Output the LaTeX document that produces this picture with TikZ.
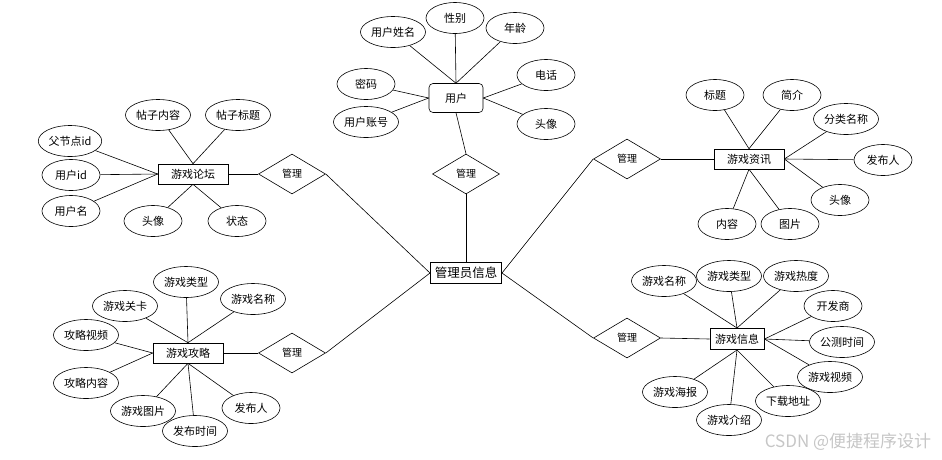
\documentclass[tikz,border=0pt]{standalone}
\usepackage{fontspec}
\setmainfont{Noto Sans CJK SC}
\usetikzlibrary{shapes.geometric}
\begin{document}
\begin{tikzpicture}[x=1pt,y=-1pt,line width=0.6pt,
  attr/.style={draw,ellipse,fill=white,minimum width=58pt,minimum height=31pt,inner sep=1pt,font=\fontsize{11}{13}\selectfont},
  entity/.style={draw,rectangle,fill=white,minimum width=70pt,minimum height=20pt,inner sep=2pt,font=\fontsize{11}{13}\selectfont},
  rel/.style={draw,diamond,fill=white,minimum width=67pt,minimum height=40pt,inner sep=0pt,aspect=1.7,font=\fontsize{10}{12}\selectfont}]
\useasboundingbox (0,0) rectangle (942,459);
\node[entity,line width=1pt,minimum width=71pt,minimum height=21pt,font=\fontsize{12.5}{14}\selectfont] (admin) at (466,273) {管理员信息};
\node[rel] (m0) at (466,174) {管理};
\node[rel] (m1) at (292,174) {管理};
\node[rel] (m2) at (292,353) {管理};
\node[rel] (m3) at (627,159) {管理};
\node[rel] (m4) at (627,338) {管理};
\draw (admin.north) -- (m0.south);
\draw (admin.west) -- (m1.east);
\draw (admin.west) -- (m2.east);
\draw (admin.east) -- (m3.west);
\draw (admin.east) -- (m4.west);

\node[entity,rounded corners=4pt,minimum width=54pt,minimum height=29pt] (user) at (456,98) {用户};
\draw (m0.north) -- (user.south);
\foreach \n/\x/\y/\t in {uname/393/32/用户姓名,usex/455/18/性别,uage/515/28/年龄}
  {\node[attr] (\n) at (\x,\y) {\t}; \draw (user.north) -- (\n);}
\foreach \n/\x/\y/\t in {uphone/546/75/电话,uavatar/546/124/头像}
  {\node[attr] (\n) at (\x,\y) {\t}; \draw (user.east) -- (\n);}
\foreach \n/\x/\y/\t in {upwd/366/84/密码,uacct/366/122/用户账号}
  {\node[attr] (\n) at (\x,\y) {\t}; \draw (user.west) -- (\n);}

\node[entity] (forum) at (193,174) {游戏论坛};
\draw (m1.west) -- (forum.east);
\foreach \n/\x/\y/\t in {fcont/158/115/帖子内容,ftitle/238/115/帖子标题}
  {\node[attr] (\n) at (\x,\y) {\t}; \draw (forum.north) -- (\n);}
\foreach \n/\x/\y/\t in {fpid/70/141/父节点id,fuid/71/175/用户id,funame/71/211/用户名}
  {\node[attr] (\n) at (\x,\y) {\t}; \draw (forum.west) -- (\n);}
\foreach \n/\x/\y/\t in {favatar/153/221/头像,fstate/237/221/状态}
  {\node[attr] (\n) at (\x,\y) {\t}; \draw (forum.south) -- (\n);}

\node[entity] (guide) at (188,353) {游戏攻略};
\draw (m2.west) -- (guide.east);
\foreach \n/\x/\y/\t in {gtype/186/282/游戏类型,gname/253/299/游戏名称,glevel/125/306/游戏关卡}
  {\node[attr] (\n) at (\x,\y) {\t}; \draw (guide.north) -- (\n);}
\foreach \n/\x/\y/\t in {gvideo/86/335/攻略视频,gcont/86/383/攻略内容}
  {\node[attr] (\n) at (\x,\y) {\t}; \draw (guide.west) -- (\n);}
\foreach \n/\x/\y/\t in {gpic/143/411/游戏图片,gtime/195/431/发布时间,gauthor/251/408/发布人}
  {\draw (guide.south) -- (\x,\y); \node[attr] (\n) at (\x,\y) {\t};}

\node[entity] (news) at (749,159) {游戏资讯};
\draw (m3.east) -- (news.west);
\foreach \n/\x/\y/\t in {ntitle/715/95/标题,nintro/792/95/简介}
  {\node[attr] (\n) at (\x,\y) {\t}; \draw (news.north) -- (\n);}
\foreach \n/\x/\y/\t in {ncat/846/119/分类名称,nauthor/883/160/发布人,navatar/840/200/头像}
  {\node[attr] (\n) at (\x,\y) {\t}; \draw (news.east) -- (\n);}
\foreach \n/\x/\y/\t in {ncont/727/224/内容,npic/790/224/图片}
  {\node[attr] (\n) at (\x,\y) {\t}; \draw (news.south) -- (\n);}

\node[entity,line width=1pt,minimum width=54pt,minimum height=21pt] (info) at (737,339) {游戏信息};
\draw (m4.east) -- (info.west);
\foreach \n/\x/\y/\t in {iname/664/281/游戏名称,itype/729/276/游戏类型,iheat/796/276/游戏热度}
  {\node[attr] (\n) at (\x,\y) {\t}; \draw (info.north) -- (\n);}
\foreach \n/\x/\y/\t in {idev/833/306/开发商,itest/842/342/公测时间,ivideo/830/377/游戏视频}
  {\node[attr] (\n) at (\x,\y) {\t}; \draw (info.east) -- (\n);}
\foreach \n/\x/\y/\t in {iurl/788/401/下载地址,iintro/729/420/游戏介绍,iposter/675/392/游戏海报}
  {\node[attr] (\n) at (\x,\y) {\t}; \draw (info.south) -- (\n);}

\node[text=gray!45,font=\fontsize{17}{19}\selectfont] (mark) at (848,442) {CSDN @便捷程序设计};
\end{tikzpicture}
\end{document}
